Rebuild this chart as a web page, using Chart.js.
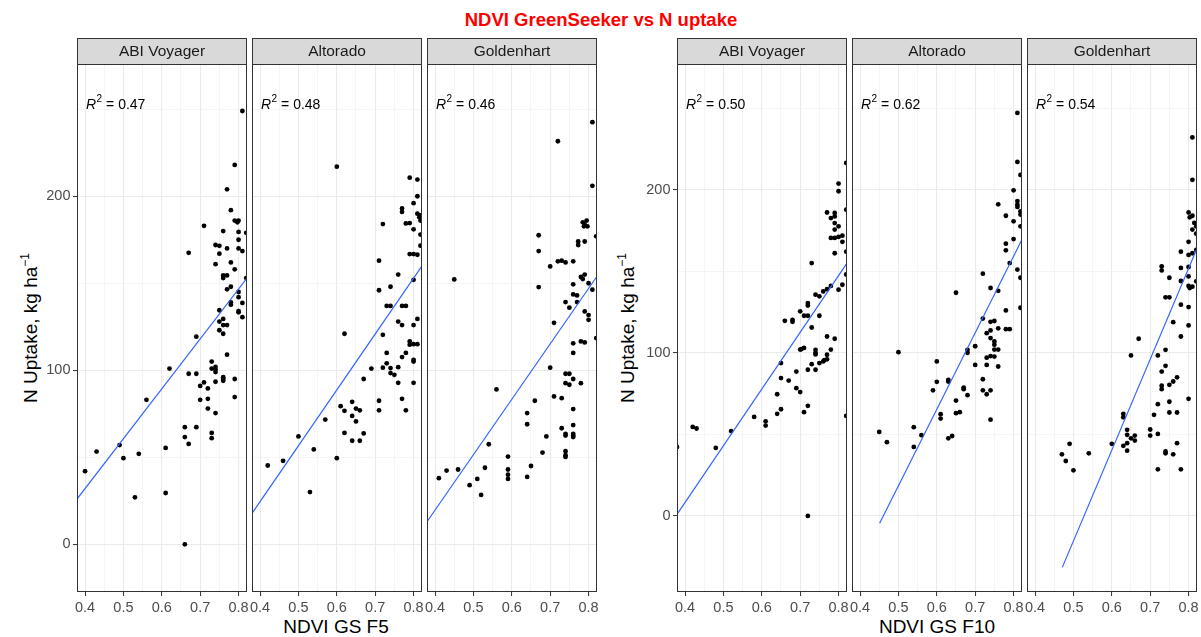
<!DOCTYPE html>
<html>
<head>
<meta charset="utf-8">
<script src="https://cdn.jsdelivr.net/npm/chart.js@4"></script>
<style>
  body { margin: 0; background: #fff; font-family: "Liberation Sans", Arial, sans-serif; }
  #wrap { position: relative; width: 1201px; height: 637px; overflow: hidden; }
  #wrap canvas { position: absolute; }
  .txt { position: absolute; white-space: nowrap; transform: translate(-50%, -50%); }
  #title { left: 601px; top: 20px; font-weight: bold; font-size: 18.5px; color: #ff0000; }
  .xtitle { top: 627px; font-size: 19px; color: #000; }
  .ytitle { top: 328px; font-size: 19px; color: #000; transform: translate(-50%, -50%) rotate(-90deg); }
  .ytitle sup { font-size: 12px; }
</style>
</head>
<body>
<div id="wrap">
  <div class="txt" id="title">NDVI GreenSeeker vs N uptake</div>
  <div class="txt xtitle" style="left:336px">NDVI GS F5</div>
  <div class="txt xtitle" style="left:937px">NDVI GS F10</div>
  <div class="txt ytitle" style="left:30px">N Uptake, kg ha<sup>−1</sup></div>
  <div class="txt ytitle" style="left:627px">N Uptake, kg ha<sup>−1</sup></div>
</div>
<script>
// axis settings
var xTicks = [0.4, 0.45, 0.5, 0.55, 0.6, 0.65, 0.7, 0.75, 0.8];
var yTicks = [0, 50, 100, 150, 200, 250];
var xRange = [0.379, 0.822];
var yRangeF5 = [-27.4, 276];
var yRangeF10 = [-46.6, 277];

var cultivars = ['ABI Voyager', 'Altorado', 'Goldenhart'];
var r2F5 = ['0.47', '0.48', '0.46'];
var r2F10 = ['0.50', '0.62', '0.54'];

// NDVI GS F5 vs N uptake, [ndvi, uptake]
var f5Abi = [[0.81,249],[0.79,218],[0.77,204],[0.78,192],[0.79,186],[0.80,186],[0.797,185],[0.71,183],[0.76,180],[0.80,179.5],[0.82,179],[0.80,175],[0.74,172],[0.75,171.5],[0.77,170],[0.75,167],[0.67,167.5],[0.80,170],[0.81,168.5],[0.78,162],[0.74,161],[0.79,158],[0.76,154.5],[0.77,154.5],[0.76,153],[0.82,153],[0.77,146.5],[0.78,148],[0.80,145],[0.80,142],[0.78,139],[0.78,137.7],[0.81,138.7],[0.75,134.5],[0.80,134],[0.80,133.3],[0.81,130.5],[0.75,128],[0.76,129.5],[0.76,126],[0.77,126],[0.75,123],[0.76,121],[0.69,119.3],[0.77,109],[0.73,105],[0.73,101],[0.74,102],[0.74,100.5],[0.74,99],[0.62,101],[0.67,98],[0.69,98],[0.74,93.4],[0.76,96],[0.76,95],[0.76,94],[0.71,93],[0.70,91],[0.72,89.6],[0.79,95],[0.70,83],[0.72,83.6],[0.79,84.6],[0.56,83],[0.72,78],[0.74,75.4],[0.66,67.3],[0.69,67.3],[0.66,61.6],[0.73,64],[0.73,61],[0.67,57.7],[0.49,57],[0.61,55.4],[0.43,53.3],[0.54,52],[0.50,49.5],[0.40,42],[0.61,29.5],[0.53,27],[0.66,0]];
var f5Alt = [[0.60,217],[0.79,210.7],[0.81,209.6],[0.81,200],[0.80,196],[0.77,193],[0.77,191],[0.81,190],[0.818,189],[0.815,188],[0.818,186],[0.72,184],[0.78,184.4],[0.79,184.6],[0.80,181],[0.818,178],[0.818,171.6],[0.79,166.8],[0.80,166.8],[0.81,166.4],[0.71,163],[0.76,155],[0.80,152],[0.71,146],[0.74,148],[0.73,137],[0.74,137],[0.77,137],[0.78,137],[0.76,128],[0.77,126],[0.80,126],[0.81,129.5],[0.62,121],[0.72,120.4],[0.79,116.6],[0.79,114.7],[0.80,115],[0.81,115],[0.73,110],[0.77,107.6],[0.78,110],[0.80,106],[0.80,105],[0.73,104],[0.72,101.5],[0.74,101.3],[0.69,101],[0.74,98.4],[0.75,97.4],[0.76,101.8],[0.76,92.8],[0.80,92.8],[0.67,95],[0.77,83.6],[0.71,82.5],[0.71,77],[0.78,77],[0.64,81.9],[0.61,79.4],[0.62,76.7],[0.65,78],[0.66,77],[0.64,73.8],[0.65,70.6],[0.57,71.7],[0.62,64],[0.67,63.7],[0.64,59.5],[0.66,59.5],[0.50,62],[0.54,54.5],[0.60,49.5],[0.42,45.3],[0.46,48],[0.53,30]];
var f5Gold = [[0.81,242.6],[0.72,231.6],[0.81,206],[0.785,185],[0.795,186],[0.79,183.7],[0.797,182.7],[0.788,182.7],[0.82,177],[0.67,177.6],[0.67,168.5],[0.773,174],[0.773,172],[0.79,174],[0.72,162.6],[0.73,163],[0.74,162],[0.76,162.6],[0.70,159.7],[0.78,153.6],[0.79,155],[0.785,152.4],[0.45,152.2],[0.67,147.8],[0.76,149.4],[0.80,150],[0.81,146.3],[0.76,143.6],[0.77,143],[0.74,139.2],[0.77,139.2],[0.75,136],[0.79,133.8],[0.80,131.7],[0.80,129],[0.71,127.3],[0.82,118.5],[0.76,115.5],[0.78,116.6],[0.79,116],[0.76,110],[0.70,101.5],[0.74,98],[0.75,98],[0.76,95],[0.74,92.6],[0.75,91.7],[0.78,92.6],[0.56,89],[0.71,85],[0.73,84],[0.66,82.5],[0.76,77.7],[0.64,75.4],[0.64,69],[0.76,68.5],[0.73,66.7],[0.74,63.5],[0.74,62.5],[0.76,63.5],[0.76,62.5],[0.76,61.6],[0.69,62],[0.54,57.5],[0.68,52.7],[0.74,53.5],[0.74,51.2],[0.74,50.2],[0.59,50.4],[0.65,45],[0.53,44],[0.46,43],[0.43,42.4],[0.41,38],[0.59,43],[0.59,40],[0.59,37.6],[0.51,37.6],[0.64,38.7],[0.49,34],[0.52,28.4]];

// NDVI GS F10 vs N uptake
var f10Abi = [[0.82,216.4],[0.80,203.7],[0.80,199],[0.77,186],[0.79,185.7],[0.79,183.6],[0.82,187.7],[0.78,182.6],[0.79,179.5],[0.80,177.5],[0.78,170.4],[0.79,170.4],[0.80,171],[0.81,171.8],[0.81,168],[0.79,175.5],[0.82,162],[0.79,161],[0.73,155],[0.82,148],[0.81,141.7],[0.80,138.7],[0.78,141],[0.77,139],[0.76,137.6],[0.75,134.6],[0.74,135.6],[0.72,130.5],[0.72,129],[0.70,125.4],[0.71,122.7],[0.72,122.7],[0.75,122.7],[0.68,120.2],[0.68,119],[0.66,119.6],[0.73,115.5],[0.77,110],[0.79,108.6],[0.71,103],[0.70,102],[0.703,102.2],[0.78,102],[0.74,101.8],[0.74,100],[0.74,99],[0.77,98.8],[0.77,96],[0.76,94.7],[0.763,95.5],[0.75,93.7],[0.73,93],[0.65,93.7],[0.69,88.5],[0.72,89.6],[0.74,89.6],[0.65,84.5],[0.67,83],[0.69,78.3],[0.70,75.9],[0.64,74.6],[0.72,67.5],[0.65,65.4],[0.64,62.6],[0.71,63.6],[0.58,60.7],[0.61,58],[0.61,55.4],[0.82,61.3],[0.52,52],[0.42,54.6],[0.43,53.6],[0.48,41.7],[0.379,42.3],[0.72,0]];
var f10Alt = [[0.81,247],[0.81,217],[0.818,209],[0.80,199.6],[0.81,193],[0.81,190.8],[0.81,189.4],[0.818,186.7],[0.818,184.7],[0.76,191],[0.78,184],[0.80,180.6],[0.818,177.5],[0.80,169.7],[0.78,166.9],[0.78,162.8],[0.79,155],[0.81,151],[0.818,146],[0.72,148.5],[0.74,139.7],[0.76,138],[0.65,136.8],[0.78,126],[0.818,127.6],[0.72,121],[0.74,119],[0.75,119.5],[0.76,115],[0.78,114.5],[0.79,114.5],[0.73,112],[0.74,113.7],[0.74,109],[0.75,107],[0.75,105],[0.75,102],[0.76,102],[0.68,101.8],[0.68,100],[0.50,100.4],[0.70,104],[0.73,97],[0.74,98],[0.75,97.7],[0.76,91.6],[0.73,92.6],[0.70,92.6],[0.60,94.7],[0.72,83.8],[0.63,83.4],[0.63,82.4],[0.60,82.2],[0.67,78.7],[0.67,77.7],[0.59,77],[0.72,77],[0.74,77],[0.73,74.6],[0.68,74],[0.65,70.7],[0.61,62.4],[0.61,59.7],[0.65,63],[0.66,63.6],[0.74,59],[0.45,51.5],[0.54,54.4],[0.56,49.5],[0.47,45.2],[0.54,42.3],[0.63,47.6],[0.64,49]];
var f10Gold = [[0.81,232],[0.81,206],[0.80,186],[0.803,183],[0.81,184],[0.815,179.6],[0.82,177.5],[0.82,173],[0.81,175.5],[0.80,168],[0.82,163],[0.81,161],[0.80,160],[0.78,162],[0.73,153],[0.73,150.5],[0.78,152],[0.80,152.6],[0.75,146],[0.78,144],[0.80,146.8],[0.80,141],[0.803,139.7],[0.81,140.5],[0.82,143.8],[0.74,134],[0.75,134],[0.78,129.5],[0.80,128],[0.76,118.8],[0.80,116.8],[0.78,110],[0.67,108.6],[0.74,101.8],[0.65,98.4],[0.72,98.4],[0.74,92],[0.73,88.5],[0.77,85],[0.76,82.4],[0.75,80.4],[0.73,79.8],[0.73,77.7],[0.75,70],[0.80,71.8],[0.72,68.5],[0.77,63.4],[0.75,63.4],[0.71,62],[0.63,62.6],[0.63,60.5],[0.64,52.8],[0.64,49.7],[0.66,49.3],[0.70,53],[0.70,49.3],[0.72,50.3],[0.65,47.6],[0.66,46.2],[0.64,44.6],[0.60,44.2],[0.63,43],[0.64,40],[0.77,44.6],[0.74,39.5],[0.74,38.4],[0.76,37.8],[0.49,44.2],[0.47,37.8],[0.54,38.4],[0.48,33.7],[0.50,28],[0.72,28.6],[0.78,28.6]];

// fitted lines (end points)
var fitF5Abi = [[0.379, 26], [0.822, 153]];
var fitF5Alt = [[0.379, 17.8], [0.822, 160]];
var fitF5Gold = [[0.379, 13], [0.822, 154]];
var fitF10Abi = [[0.379, 1], [0.822, 155]];
var fitF10Alt = [[0.451, -4.5], [0.822, 169.5]];
var fitF10Gold = [[0.471, -31.5], [0.822, 164]];

var STRIP = 26;   // strip height
var SIDE = 14;    // spare room each side for tick labels
var YAXIS = 60;   // y axis width on first panel of a group
var PW = 170;     // panel width
var TOP = 38;     // strip top on page
var HEIGHT = 599; // canvas height

Chart.defaults.font.family = '"Liberation Sans", Arial, sans-serif';

function toXY(arr) {
    return arr.map(function(p) { return {x: p[0], y: p[1]}; });
}

function isMajor(v, step) {
    return Math.abs(v / step - Math.round(v / step)) < 1e-6;
}

// draws panel border, strip and R² label
var facetPlugin = {
    id: 'facet',
    afterDraw: function(chart, args, opts) {
        var a = chart.chartArea;
        var c = chart.ctx;
        var w = a.right - a.left;
        c.save();
        c.lineWidth = 1;
        c.strokeStyle = '#333333';
        c.strokeRect(a.left + 0.5, a.top + 0.5, w - 1, a.bottom - a.top - 1);

        c.fillStyle = '#d9d9d9';
        c.fillRect(a.left, a.top - STRIP, w, STRIP);
        c.strokeRect(a.left + 0.5, a.top - STRIP + 0.5, w - 1, STRIP);

        c.fillStyle = '#1a1a1a';
        c.font = '15.5px "Liberation Sans", Arial, sans-serif';
        c.textAlign = 'center';
        c.textBaseline = 'middle';
        c.fillText(opts.label, a.left + w / 2, a.top - 12);

        // R² = ...
        var x = a.left + 9;
        var y = a.top + 45;
        c.fillStyle = '#000';
        c.textAlign = 'left';
        c.textBaseline = 'alphabetic';
        c.font = 'italic 14px "Liberation Sans", Arial, sans-serif';
        c.fillText('R', x, y);
        x += c.measureText('R').width + 0.5;
        c.font = '10px "Liberation Sans", Arial, sans-serif';
        c.fillText('2', x, y - 7);
        x += c.measureText('2').width;
        c.font = '14px "Liberation Sans", Arial, sans-serif';
        c.fillText(' = ' + opts.r2, x, y);
        c.restore();
    }
};

function makePanel(p) {
    console.log('Creating panel ' + p.label + '..');
    var leftRoom = p.first ? YAXIS : SIDE;
    var cv = document.createElement('canvas');
    cv.width = leftRoom + PW + SIDE;
    cv.height = HEIGHT;
    cv.style.left = (p.left - leftRoom) + 'px';
    cv.style.top = TOP + 'px';
    document.getElementById('wrap').appendChild(cv);

    return new Chart(cv.getContext('2d'), {
        type: 'scatter',
        data: {
            datasets: [{
                data: toXY(p.fit),
                showLine: true,
                borderColor: '#3366ff',
                borderWidth: 1.2,
                pointRadius: 0,
                clip: 0
            }, {
                data: toXY(p.pts),
                pointRadius: 2.4,
                pointBackgroundColor: '#000',
                pointBorderWidth: 0,
                clip: 0
            }]
        },
        options: {
            responsive: false,
            animation: false,
            devicePixelRatio: 1,
            events: [],
            layout: { padding: { left: p.first ? 0 : SIDE, right: SIDE, top: STRIP, bottom: 0 } },
            plugins: {
                legend: { display: false },
                tooltip: { enabled: false },
                facet: { label: p.label, r2: p.r2 }
            },
            scales: {
                x: {
                    type: 'linear',
                    min: xRange[0],
                    max: xRange[1],
                    afterBuildTicks: function(s) { s.ticks = xTicks.map(function(v) { return {value: v}; }); },
                    afterFit: function(s) { s.height = 637 - 592; s.paddingLeft = 0; s.paddingRight = 0; },
                    border: { display: false },
                    ticks: {
                        autoSkip: false,
                        maxRotation: 0,
                        padding: 3,
                        color: '#4d4d4d',
                        font: { size: 14.5 },
                        callback: function(v) { return isMajor(v, 0.1) ? v.toFixed(1) : ''; }
                    },
                    grid: {
                        color: function(c) { return isMajor(c.tick.value, 0.1) ? '#ebebeb' : '#f3f3f3'; },
                        lineWidth: function(c) { return isMajor(c.tick.value, 0.1) ? 1.1 : 0.8; },
                        tickLength: 4,
                        tickWidth: 1,
                        tickColor: function(c) { return isMajor(c.tick.value, 0.1) ? '#333333' : 'rgba(0,0,0,0)'; }
                    }
                },
                y: {
                    type: 'linear',
                    min: p.yr[0],
                    max: p.yr[1],
                    afterBuildTicks: function(s) { s.ticks = yTicks.map(function(v) { return {value: v}; }); },
                    afterFit: function(s) { s.width = p.first ? YAXIS : 0; s.paddingTop = 0; s.paddingBottom = 0; },
                    border: { display: false },
                    ticks: {
                        display: p.first,
                        padding: 2.5,
                        color: '#4d4d4d',
                        font: { size: 14.5 },
                        callback: function(v) { return isMajor(v, 100) ? String(v) : ''; }
                    },
                    grid: {
                        drawTicks: p.first,
                        color: function(c) { return isMajor(c.tick.value, 100) ? '#ebebeb' : '#f3f3f3'; },
                        lineWidth: function(c) { return isMajor(c.tick.value, 100) ? 1.1 : 0.8; },
                        tickLength: 4,
                        tickWidth: 1,
                        tickColor: function(c) { return isMajor(c.tick.value, 100) ? '#333333' : 'rgba(0,0,0,0)'; }
                    }
                }
            }
        },
        plugins: [facetPlugin]
    });
}

var panels = [
    {left: 77, first: true, label: cultivars[0], r2: r2F5[0], yr: yRangeF5, pts: f5Abi, fit: fitF5Abi},
    {left: 252, first: false, label: cultivars[1], r2: r2F5[1], yr: yRangeF5, pts: f5Alt, fit: fitF5Alt},
    {left: 427, first: false, label: cultivars[2], r2: r2F5[2], yr: yRangeF5, pts: f5Gold, fit: fitF5Gold},
    {left: 677, first: true, label: cultivars[0], r2: r2F10[0], yr: yRangeF10, pts: f10Abi, fit: fitF10Abi},
    {left: 852, first: false, label: cultivars[1], r2: r2F10[1], yr: yRangeF10, pts: f10Alt, fit: fitF10Alt},
    {left: 1027, first: false, label: cultivars[2], r2: r2F10[2], yr: yRangeF10, pts: f10Gold, fit: fitF10Gold}
];

for (var i = 0; i < panels.length; i++) {
    makePanel(panels[i]);
}
</script>
</body>
</html>
